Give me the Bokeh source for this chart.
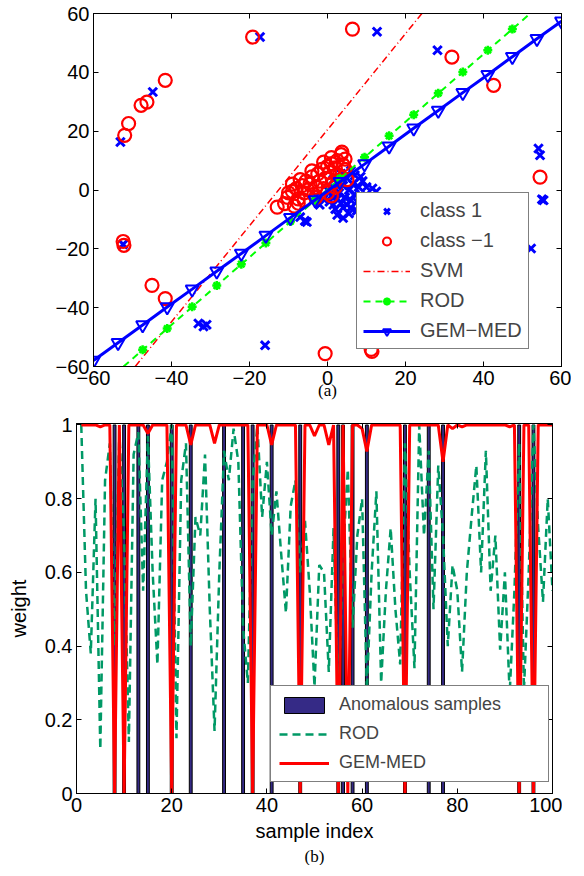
from bokeh.plotting import figure
from bokeh.models import (Range1d, LinearAxis, FixedTicker, Legend, LegendItem, Title,
                          CustomLabelingPolicy)
from bokeh.embed import file_html
from bokeh.resources import INLINE

FONT = "Liberation Sans"

# ---------------- panel (a) data ----------------
class1_x = [-53.1, -52.4, -44.8, -17.3, 12.7, 28.2, 54.1, 54.5, 55.4, 55.0, 52.2,
            -33.1, -31.8, -31.0, -16.0, -5.3, -7.0, -5.8,
            0.5, 1.0, 1.5, 2.0, 2.5, 3.0, 3.5, 4.0, 4.5, 5.0, 5.5, 6.0, 6.5, 7.0,
            7.5, 8.0, 8.5, 9.0, 3.0, 2.0, 4.0, 6.0, -1.0, -2.0, 0.0, 5.0, 7.0,
            10.0, 11.5, 12.5, 9.5, 3.5, 1.5, -3.0, 2.5, 5.5, 7.5, 8.5, 6.0, 4.0]
class1_y = [16.3, -18.5, 33.3, 52.0, 53.8, 47.5, 14.1, 11.8, -3.5, -3.2, -19.9,
            -45.4, -46.4, -45.8, -52.8, -10.9, -9.2, -10.5,
            -4.0, -2.0, -5.0, 0.5, -3.0, -1.0, -4.5, 1.5, -2.5, -5.0, 0.0, -3.5, 2.0, -1.5,
            -4.0, 1.0, -2.0, 3.0, 2.5, -6.5, -6.0, -6.0, -3.0, -5.0, 0.0, 4.0, 5.0,
            1.0, 0.5, -0.5, -4.0, 5.5, 3.5, -2.0, -8.5, -8.0, -7.0, 4.5, 6.5, -9.5]

classm1_x = [-52.0, -51.0, -47.8, -46.3, -41.6, -52.4, -52.2, -19.2, 6.4, 31.9, 42.6,
             54.5, -45.0, -41.6, -0.6, 11.4, 11.2,
             -12.9, -11.0, -10.2, -9.0, -8.0, -7.5, -6.5, -6.0, -5.5, -5.0, -4.5,
             -4.0, -3.5, -3.0, -2.5, -2.0, -1.5, -1.0, -0.5, 0.0, 0.5, 1.0, 1.5,
             2.0, 2.5, 3.0, 3.5, 4.0, 4.5, 5.0, 1.0, -8.5, 3.7,
             -9.0, -7.0, -4.0, -1.0, 1.0, -10.0, -6.0, -3.0, 0.0, 2.0, -7.5, 4.5]
classm1_y = [18.6, 22.6, 28.8, 29.9, 37.3, -17.5, -18.8, 52.0, 54.7, 45.2, 35.6,
             4.4, -32.4, -36.9, -55.6, -54.9, -54.2,
             -5.8, -4.6, -2.5, -0.5, 0.5, -3.0, 1.5, -1.0, 3.0, 0.0, 2.0,
             4.5, -1.5, 1.0, 5.5, 3.0, 7.0, 0.5, 4.0, 8.0, 6.0, 9.0, 2.5,
             7.5, 10.0, 5.0, 12.0, 8.5, 10.5, 3.5, -2.0, -5.5, 12.9,
             2.0, 3.5, 6.5, 9.5, 11.0, -1.0, -3.5, -2.5, -1.0, 1.0, -4.5, 7.0]

svm_x = [-49.3, 24.2]
svm_y = [-60.0, 60.0]

rod_line_x = [-52.3, 52.0]
rod_line_y = [-60.0, 60.0]
rod_mark_x = [-47.4, -41.1, -34.7, -28.4, -22.1, -15.8, -9.5, -3.2,
              3.2, 9.5, 15.8, 22.1, 28.4, 34.7, 41.1, 47.4]
rod_mark_y = [-54.3, -47.1, -39.7, -32.5, -25.2, -18.0, -10.7, -3.5,
              3.9, 11.1, 18.4, 25.6, 32.9, 40.1, 47.5, 54.7]

gem_x = [-60.0, -53.7, -47.4, -41.1, -34.7, -28.4, -22.1, -15.8, -9.5, -3.2,
         3.2, 9.5, 15.8, 22.1, 28.4, 34.7, 41.1, 47.4, 53.7, 60.0]
gem_y = [-58.0, -51.9, -45.9, -39.8, -33.7, -27.6, -21.6, -15.5, -9.4, -3.4,
         2.8, 8.8, 14.9, 21.0, 27.0, 33.1, 39.2, 45.3, 51.4, 57.4]

ticks_a = [-60, -40, -20, 0, 20, 40, 60]
tick_labels_a = {-60: "\u221260", -40: "\u221240", -20: "\u221220", 0: "0",
                 20: "20", 40: "40", 60: "60"}

# ---------------- panel (b) data ----------------
sample_idx = list(range(1, 101))
anom_idx = [8, 10, 13, 15, 20, 24, 31, 35, 37, 41, 47, 55, 56, 58, 61, 69, 74, 77, 93, 96]

rod_w = [1.00, 0.55, 0.38, 0.80, 0.12, 0.85, 0.95, 0.40, 0.98, 0.70,
         0.14, 0.92, 0.98, 0.55, 0.97, 0.60, 0.35, 0.85, 0.90, 1.00,
         0.15, 0.85, 0.95, 0.40, 0.75, 0.70, 0.92, 0.50, 0.17, 0.60,
         0.93, 0.85, 0.99, 0.90, 0.45, 0.30, 0.85, 1.00, 0.75, 0.90,
         0.70, 0.82, 0.65, 0.49, 0.78, 0.85, 0.60, 0.74, 0.55, 0.29,
         0.62, 0.60, 0.33, 0.72, 0.25, 0.65, 0.88, 0.45, 0.70, 0.80,
         0.28, 0.60, 0.82, 0.30, 0.55, 0.72, 0.50, 0.35, 0.95, 0.60,
         0.34, 1.00, 0.70, 0.93, 0.50, 0.89, 0.70, 0.40, 0.62, 0.55,
         0.33, 0.60, 0.75, 0.89, 0.60, 0.93, 0.55, 0.70, 0.39, 0.60,
         0.27, 0.55, 0.95, 0.28, 0.60, 1.00, 0.72, 0.52, 0.80, 0.55]

gem_w = [1.0, 1.0, 1.0, 1.0, 0.995, 1.0, 1.0, 0.0, 1.0, 0.0,
         1.0, 1.0, 1.0, 1.0, 0.977, 1.0, 1.0, 1.0, 1.0, 0.0,
         1.0, 1.0, 1.0, 0.946, 1.0, 1.0, 1.0, 1.0, 0.95, 1.0,
         1.0, 1.0, 1.0, 1.0, 1.0, 1.0, 0.0, 1.0, 1.0, 1.0,
         0.946, 1.0, 1.0, 1.0, 1.0, 1.0, 0.0, 1.0, 1.0, 0.97,
         1.0, 1.0, 0.946, 1.0, 0.0, 1.0, 0.0, 1.0, 1.0, 0.99,
         0.928, 1.0, 1.0, 1.0, 1.0, 1.0, 1.0, 1.0, 0.0, 1.0,
         1.0, 1.0, 1.0, 1.0, 1.0, 1.0, 0.90, 1.0, 0.99, 1.0,
         0.995, 1.0, 1.0, 1.0, 1.0, 1.0, 1.0, 1.0, 1.0, 1.0,
         0.995, 1.0, 0.0, 1.0, 1.0, 0.0, 1.0, 1.0, 1.0, 1.0]

ticks_bx = [0, 20, 40, 60, 80, 100]
ticks_by = [0, 0.2, 0.4, 0.6, 0.8, 1]
tick_labels_by = {0: "0", 0.2: "0.2", 0.4: "0.4", 0.6: "0.6", 0.8: "0.8", 1: "1"}

HIDE_LABELS = ("try { for (let i = 0; i < indices.size; i++) { indices.unset(i) } }"
               " catch (e) {} return indices")


def style_axis(ax, ticks, overrides, size, show=True):
    ax.ticker = FixedTicker(ticks=ticks)
    if overrides:
        ax.major_label_overrides = overrides
    ax.major_tick_in = 5
    ax.major_tick_out = 0
    ax.minor_tick_line_color = None
    ax.axis_line_color = "black"
    ax.major_tick_line_color = "black"
    ax.major_label_text_font = FONT
    ax.major_label_text_color = "black"
    if show:
        ax.major_label_text_font_size = size
        ax.major_label_standoff = 4
    else:
        ax.major_label_text_font_size = "0px"
        ax.major_label_standoff = 0
        ax.major_label_policy = CustomLabelingPolicy(code=HIDE_LABELS)


# ---------------- figure (a) ----------------
pa = figure(frame_width=468, frame_height=353,
            x_range=Range1d(-60, 60), y_range=Range1d(-60, 60),
            output_backend="svg", toolbar_location=None,
            min_border_left=93, min_border_right=10, min_border_top=13, min_border_bottom=42)
pa.xgrid.visible = False
pa.ygrid.visible = False
pa.outline_line_color = "black"
xa_a = pa.xaxis[0]
ya_a = pa.yaxis[0]
style_axis(xa_a, ticks_a, tick_labels_a, "20px")
style_axis(ya_a, ticks_a, tick_labels_a, "20px")
xa_a.axis_label = "(a)"
xa_a.axis_label_text_font = "Liberation Serif"
xa_a.axis_label_text_font_size = "17px"
xa_a.axis_label_text_font_style = "normal"
xa_a.axis_label_text_color = "black"
xa_a.axis_label_standoff = -7
ax_top = LinearAxis()
style_axis(ax_top, ticks_a, None, "0px", show=False)
pa.add_layout(ax_top, "above")
ax_right = LinearAxis()
style_axis(ax_right, ticks_a, None, "0px", show=False)
pa.add_layout(ax_right, "right")

r_c1 = pa.scatter(class1_x, class1_y, marker="x", size=12, line_color="blue", line_width=3)
r_cm1 = pa.scatter(classm1_x, classm1_y, marker="circle", size=13, fill_color=None,
                   line_color="red", line_width=2.2)
r_svm = pa.line(svm_x, svm_y, line_color="red", line_dash="7 3 1 3", line_width=1.5)
r_rod_l = pa.line(rod_line_x, rod_line_y, line_color="#00FF00", line_dash="7 5", line_width=2)
r_rod_m = pa.scatter(rod_mark_x, rod_mark_y, marker="asterisk", size=9,
                     line_color="#00FF00", line_width=2.5)
r_gem_l = pa.line(gem_x, gem_y, line_color="blue", line_width=3)
r_gem_m = pa.scatter(gem_x, gem_y, marker="inverted_triangle", size=13, fill_color=None,
                     line_color="blue", line_width=2)

leg_a = Legend(items=[
    LegendItem(label="class 1", renderers=[r_c1]),
    LegendItem(label="class \u22121", renderers=[r_cm1]),
    LegendItem(label="SVM", renderers=[r_svm]),
    LegendItem(label="ROD", renderers=[r_rod_l, r_rod_m]),
    LegendItem(label="GEM\u2212MED", renderers=[r_gem_l, r_gem_m]),
], location=(263, 17))
leg_a.glyph_width = 47
leg_a.glyph_height = 20
leg_a.label_height = 20
leg_a.label_width = 99
leg_a.spacing = 7
leg_a.padding = 6
leg_a.margin = 0
leg_a.label_standoff = 10
leg_a.label_text_font = FONT
leg_a.label_text_font_size = "20px"
leg_a.label_text_baseline = "middle"
leg_a.border_line_color = "black"
leg_a.border_line_width = 1
leg_a.background_fill_alpha = 1
pa.add_layout(leg_a)

# ---------------- figure (b) ----------------
pb = figure(frame_width=476, frame_height=370,
            x_range=Range1d(0, 100), y_range=Range1d(0, 1.004),
            output_backend="svg", toolbar_location=None,
            min_border_left=76, min_border_right=10, min_border_top=15, min_border_bottom=10)
pb.xgrid.visible = False
pb.ygrid.visible = False
pb.outline_line_color = "black"
xa_b = pb.xaxis[0]
ya_b = pb.yaxis[0]
style_axis(xa_b, ticks_bx, None, "20px")
style_axis(ya_b, ticks_by, tick_labels_by, "20px")
bx_top = LinearAxis()
style_axis(bx_top, ticks_bx, None, "0px", show=False)
pb.add_layout(bx_top, "above")
by_right = LinearAxis()
style_axis(by_right, ticks_by, None, "0px", show=False)
pb.add_layout(by_right, "right")

for ax, lab, so in ((xa_b, "sample index", 5), (ya_b, "weight", 12)):
    ax.axis_label = lab
    ax.axis_label_text_font = FONT
    ax.axis_label_text_font_size = "20px"
    ax.axis_label_text_font_style = "normal"
    ax.axis_label_text_color = "black"
    ax.axis_label_standoff = so

r_bar = pb.vbar(x=anom_idx, top=1, bottom=0, width=0.6, fill_color="#352A86",
                line_color="black", line_width=1)
r_rod_b = pb.line(sample_idx, rod_w, line_color="#009966", line_dash="8 5", line_width=2.5)
r_gem_b = pb.line(sample_idx, gem_w, line_color="red", line_width=3)

leg_b = Legend(items=[
    LegendItem(label="Anomalous samples", renderers=[r_bar]),
    LegendItem(label="ROD", renderers=[r_rod_b]),
    LegendItem(label="GEM-MED", renderers=[r_gem_b]),
], location=(194, 11))
leg_b.glyph_width = 50
leg_b.glyph_height = 20
leg_b.label_height = 20
leg_b.label_width = 201
leg_b.spacing = 8
leg_b.padding = 8
leg_b.margin = 0
leg_b.label_standoff = 10
leg_b.label_text_font = FONT
leg_b.label_text_font_size = "18px"
leg_b.label_text_baseline = "middle"
leg_b.border_line_color = "black"
leg_b.border_line_width = 1
leg_b.background_fill_alpha = 1
pb.add_layout(leg_b)

pb.add_layout(Title(text="(b)", align="center", text_font="Liberation Serif",
                    text_font_size="17px", text_font_style="normal", text_color="black",
                    standoff=0, offset=0), "below")

open("out.html", "w").write(file_html([pa, pb], INLINE))
